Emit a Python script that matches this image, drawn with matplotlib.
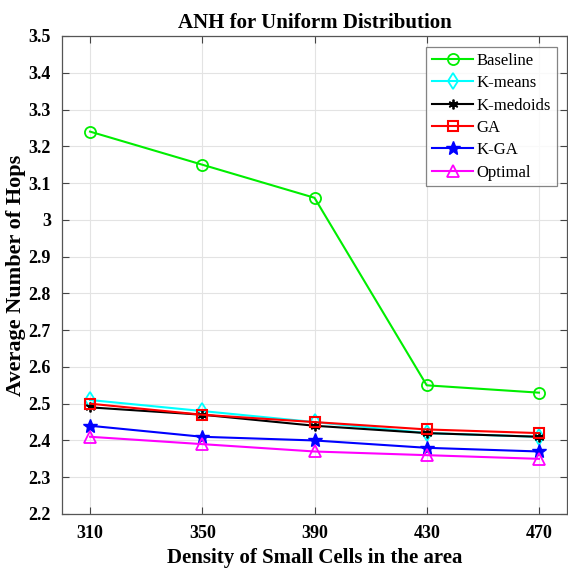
import matplotlib
matplotlib.use("Agg")
import matplotlib.pyplot as plt

x = [310, 350, 390, 430, 470]
baseline = [3.24, 3.15, 3.06, 2.55, 2.53]
kmeans = [2.51, 2.48, 2.45, 2.42, 2.41]
kmedoids = [2.49, 2.47, 2.44, 2.42, 2.41]
ga = [2.50, 2.47, 2.45, 2.43, 2.42]
kga = [2.44, 2.41, 2.40, 2.38, 2.37]
optimal = [2.41, 2.39, 2.37, 2.36, 2.35]
yticks = [2.2, 2.3, 2.4, 2.5, 2.6, 2.7, 2.8, 2.9, 3.0, 3.1, 3.2, 3.3, 3.4, 3.5]
ylabels = ["2.2", "2.3", "2.4", "2.5", "2.6", "2.7", "2.8", "2.9", "3", "3.1", "3.2", "3.3", "3.4", "3.5"]

plt.rcParams['font.family'] = ['Liberation Serif', 'DejaVu Serif']

fig = plt.figure(figsize=(5.68, 5.76), dpi=100)
ax = fig.add_axes([62/568, 1 - 514/576, 505/568, (514-36)/576])

lw = 1.5
ax.plot(x, baseline, color='#00ee00', marker='o', mfc='none', ms=8, mew=1.3, lw=lw, label='Baseline')
ax.plot(x, kmeans, color='cyan', marker='d', mfc='none', ms=8, mew=1.3, lw=lw, label='K-means')
ax.plot(x, kmedoids, color='black', marker=(6, 2, 0), ms=7, mew=1.3, lw=lw, label='K-medoids')
ax.plot(x, ga, color='red', marker='s', mfc='none', ms=7, mew=1.5, lw=lw, label='GA')
ax.plot(x, kga, color='blue', marker='*', ms=10, lw=lw, label='K-GA')
ax.plot(x, optimal, color='magenta', marker='^', mfc='none', ms=8, mew=1.3, lw=lw, label='Optimal')

ax.set_xlim(300, 480)
ax.set_ylim(2.2, 3.5)
ax.set_xticks(x)
ax.set_xticklabels([str(v) for v in x], fontsize=13, fontweight='bold')
ax.set_yticks(yticks)
ax.set_yticklabels(ylabels, fontsize=13, fontweight='bold')
ax.tick_params(direction='in', top=True, right=True, length=5, width=0.8, color='#444444', pad=8)
ax.grid(True, color='#e3e3e3', lw=0.8)
for s in ax.spines.values():
    s.set_color('#555555')
    s.set_linewidth(0.9)

ax.set_title('ANH for Uniform Distribution', fontsize=15, fontweight='bold', pad=6)
ax.set_xlabel('Density of Small Cells in the area', fontsize=15, fontweight='bold', labelpad=4)
ax.set_ylabel('Average Number of Hops', fontsize=16, fontweight='bold', labelpad=2)

leg = ax.legend(loc='upper right', bbox_to_anchor=((557 - 62) / 505, 1 - (47 - 36) / 478),
                bbox_transform=ax.transAxes,
                fontsize=12, frameon=True, fancybox=False, edgecolor='#666666', borderpad=0.35,
                handlelength=2.5, handletextpad=0.2, labelspacing=0.38, borderaxespad=0)
leg.get_frame().set_linewidth(0.9)

fig.savefig('out.png', dpi=100)
